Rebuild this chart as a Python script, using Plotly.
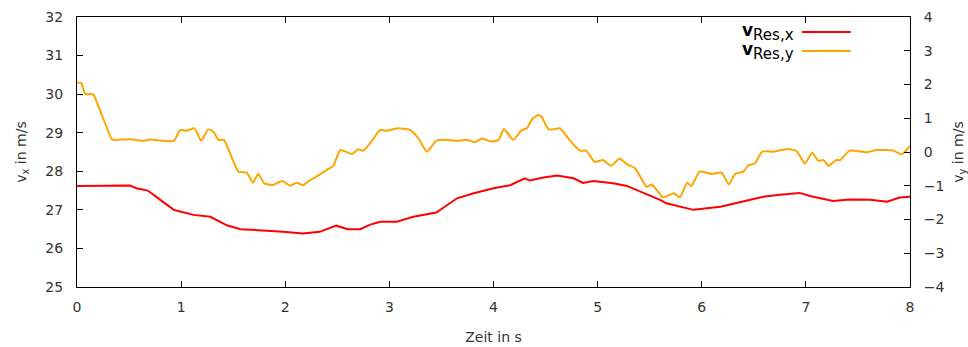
import plotly.graph_objects as go

t_vx = [0, 0.3, 0.51, 0.57, 0.68, 0.8, 0.93, 1.0, 1.12, 1.28, 1.44, 1.57, 1.73, 1.98, 2.17, 2.33, 2.49, 2.6, 2.72, 2.81,
        2.91, 3.07, 3.23, 3.45, 3.65, 3.81, 4.0, 4.16, 4.3, 4.35, 4.48, 4.61, 4.77, 4.86, 4.96, 5.15, 5.28, 5.44, 5.6, 5.66,
        5.92, 6.18, 6.4, 6.59, 6.75, 6.94, 7.04, 7.26, 7.42, 7.62, 7.78, 7.9, 8.0]
vx = [27.62, 27.62, 27.63, 27.56, 27.5, 27.26, 27.0, 26.95, 26.87, 26.82, 26.6, 26.5, 26.48, 26.43, 26.39, 26.43, 26.59, 26.5, 26.5, 26.61,
      26.69, 26.69, 26.82, 26.93, 27.3, 27.43, 27.56, 27.64, 27.82, 27.76, 27.84, 27.89, 27.82, 27.7, 27.75, 27.69, 27.62, 27.44, 27.26, 27.17,
      27.0, 27.08, 27.21, 27.34, 27.39, 27.44, 27.36, 27.23, 27.27, 27.26, 27.21, 27.32, 27.34]

t_vy = [0, 0.04, 0.08, 0.14, 0.16, 0.33, 0.35, 0.51, 0.64, 0.70, 0.93, 0.99, 1.05, 1.13, 1.19, 1.26, 1.31, 1.36, 1.41, 1.55,
        1.63, 1.69, 1.74, 1.80, 1.88, 1.97, 2.05, 2.11, 2.17, 2.24, 2.30, 2.40, 2.46, 2.53, 2.64, 2.70, 2.75, 2.81, 2.91, 2.97,
        3.07, 3.2, 3.28, 3.36, 3.45, 3.53, 3.65, 3.74, 3.82, 3.89, 3.97, 4.05, 4.10, 4.19, 4.27, 4.32, 4.37, 4.43, 4.46, 4.53,
        4.64, 4.67, 4.73, 4.83, 4.89, 4.97, 5.05, 5.13, 5.21, 5.28, 5.36, 5.47, 5.52, 5.63, 5.73, 5.79, 5.86, 5.9, 5.98, 6.1,
        6.19, 6.26, 6.32, 6.40, 6.45, 6.51, 6.58, 6.69, 6.82, 6.91, 6.99, 7.06, 7.12, 7.17, 7.22, 7.29, 7.33, 7.42, 7.58, 7.68,
        7.84, 7.92, 8.0]
vy = [2.05, 2.05, 1.72, 1.72, 1.69, 0.40, 0.36, 0.38, 0.33, 0.37, 0.33, 0.65, 0.63, 0.70, 0.33, 0.67, 0.60, 0.36, 0.36, -0.58,
      -0.61, -0.91, -0.65, -0.93, -0.98, -0.86, -1.0, -0.91, -0.98, -0.83, -0.73, -0.53, -0.41, 0.06, -0.06, 0.08, 0.04, 0.24, 0.65, 0.63,
      0.70, 0.65, 0.40, 0.01, 0.33, 0.36, 0.33, 0.36, 0.29, 0.40, 0.31, 0.36, 0.68, 0.36, 0.65, 0.70, 0.97, 1.10, 1.05, 0.67,
      0.70, 0.60, 0.36, 0.04, 0.04, -0.29, -0.24, -0.41, -0.19, -0.36, -0.48, -1.03, -0.96, -1.35, -1.22, -1.34, -0.91, -1.01, -0.58, -0.65,
      -0.61, -0.96, -0.65, -0.58, -0.39, -0.34, 0.01, 0.01, 0.09, 0.03, -0.34, -0.02, -0.26, -0.24, -0.41, -0.24, -0.24, 0.04, -0.01, 0.06,
      0.04, -0.07, 0.18]

x_ticks = [0, 1, 2, 3, 4, 5, 6, 7, 8]
y_ticks = [25, 26, 27, 28, 29, 30, 31, 32]
y2_ticks = [-4, -3, -2, -1, 0, 1, 2, 3, 4]

labels = ["<b>v</b><sub><span style='font-size:15px'>Res,x</span></sub>",
          "<b>v</b><sub><span style='font-size:15px'>Res,y</span></sub>"]
colors = ["#ff0000", "#ffa500"]

FONT = "DejaVu Sans"
TXT = "#333333"

fig = go.Figure()
fig.add_trace(go.Scatter(x=t_vx, y=vx, mode="lines", line=dict(color=colors[0], width=2),
                         showlegend=False, yaxis="y"))
fig.add_trace(go.Scatter(x=t_vy, y=vy, mode="lines", line=dict(color=colors[1], width=2, shape="spline", smoothing=0.5),
                         showlegend=False, yaxis="y2"))

axis_common = dict(showgrid=False, zeroline=False, ticks="inside", ticklen=6, tickcolor="black",
                   linecolor="black", linewidth=1, showline=True, automargin=False,
                   tickfont=dict(family=FONT, size=14, color=TXT))

fig.update_layout(
    width=968, height=347,
    margin=dict(l=77, r=58, t=17, b=60),
    paper_bgcolor="white", plot_bgcolor="white",
    font=dict(family=FONT, size=14, color=TXT),
    xaxis=dict(range=[0, 8], tickvals=x_ticks, mirror="ticks", ticklabelstandoff=7,
               title=dict(text="Zeit in s", standoff=18, font=dict(family=FONT, size=14, color=TXT)),
               **axis_common),
    yaxis=dict(range=[25, 32], tickvals=y_ticks, ticklabelstandoff=10,
               title=dict(text="v<sub>x</sub> in m/s", standoff=15, font=dict(family=FONT, size=14, color=TXT)),
               **axis_common),
    yaxis2=dict(range=[-4, 4], tickvals=y2_ticks, overlaying="y", side="right", ticklabelstandoff=10,
                title=dict(text="v<sub>y</sub> in m/s", standoff=13, font=dict(family=FONT, size=14, color=TXT)),
                **axis_common),
)

# gnuplot-style key: text right-aligned, sample line to its right
key_rows = [0.944, 0.874]
for lab, col, yk in zip(labels, colors, key_rows):
    fig.add_annotation(xref="paper", yref="paper", x=0.862, y=yk, xanchor="right", yanchor="middle",
                       text=lab, showarrow=False, font=dict(family=FONT, size=17, color="black"),
                       borderpad=0)
    fig.add_shape(type="line", xref="paper", yref="paper", x0=0.8703, x1=0.929, y0=yk, y1=yk,
                  line=dict(color=col, width=2))

fig.write_html("out.html")
